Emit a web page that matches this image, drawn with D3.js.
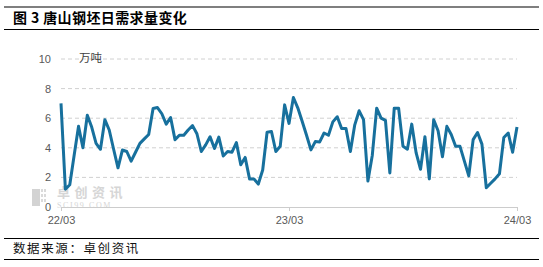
<!DOCTYPE html>
<html>
<head>
<meta charset="utf-8">
<script src="https://cdn.jsdelivr.net/npm/d3@7"></script>
<style>
  body { margin: 0; background: #fff; }
  svg { display: block; font-family: "Liberation Sans", Arial, sans-serif; }
</style>
</head>
<body>
<svg id="chart"></svg>
<script>
const width = 543;
const height = 267;

// weekly demand, 10k tonnes (Mar 2022 - Mar 2024)
const values = [
    7.0, 1.2, 1.5, 3.5, 5.45, 4.0, 6.2, 5.4, 4.3, 3.9,
    5.9, 5.2, 3.9, 2.65, 3.85, 3.75, 3.1, 3.7, 4.3, 4.6,
    4.9, 6.65, 6.72, 6.3, 5.6, 6.05, 4.55, 4.85, 4.85, 5.2,
    5.5, 4.95, 3.75, 4.2, 4.75, 3.95, 4.72, 3.45, 3.75, 3.7,
    4.35, 2.85, 3.35, 1.9, 1.9, 1.55, 2.5, 5.05, 5.1, 3.75,
    4.1, 6.9, 5.65, 7.4, 6.7, 5.8, 4.85, 3.86, 4.42, 4.4,
    5.0, 4.85, 5.75, 6.1, 5.3, 5.3, 3.75, 5.55, 6.5, 5.9,
    1.75, 3.5, 6.68, 6.0, 5.85, 2.3, 6.68, 6.68, 4.1, 3.9,
    5.6, 3.65, 2.55, 4.75, 1.9, 5.9, 5.15, 3.4, 5.45, 4.9,
    4.1, 4.1, 3.1, 2.1, 4.55, 5.03, 4.25, 1.3, 1.6, 1.9,
    2.25, 4.7, 5.0, 3.7, 5.4
];
const xTickIndex = [0, 52, 104];
const xTickLabels = ["22/03", "23/03", "24/03"];
const yTicks = [0, 2, 4, 6, 8, 10];

const title = "图 3  唐山钢坯日需求量变化";
const unit = "万吨";
const source = "数据来源：卓创资讯";

const svg = d3.select("#chart")
    .attr("width", width)
    .attr("height", height);

const x = d3.scaleLinear().domain([0, values.length - 1]).range([61, 517]);
const y = d3.scaleLinear().domain([0, 10]).range([207, 59]);

// header / footer rules
[7, 29.5, 238.5, 259.5].forEach(yy => {
    svg.append("line")
        .attr("x1", 4).attr("x2", 539)
        .attr("y1", yy).attr("y2", yy)
        .attr("stroke", "#000").attr("stroke-width", 1.2);
});

svg.append("text")
    .attr("x", 13).attr("y", 23)
    .attr("font-family", "'Noto Sans CJK SC', sans-serif")
    .attr("font-weight", "bold")
    .attr("font-size", 14)
    .attr("letter-spacing", 0.4)
    .text(title);

svg.append("text")
    .attr("x", 13).attr("y", 253)
    .attr("font-family", "'Noto Sans CJK SC', sans-serif")
    .attr("font-size", 12.5)
    .attr("letter-spacing", 1.6)
    .attr("fill", "#111")
    .text(source);

// watermark
const wm = svg.append("g").attr("opacity", 0.9);
wm.append("rect").attr("x", 32).attr("y", 189).attr("width", 8).attr("height", 17).attr("fill", "#cfcfcf");
[[41, 189], [44, 189], [41, 194], [44, 194], [41, 199], [44, 199]].forEach(p => {
    wm.append("rect").attr("x", p[0]).attr("y", p[1]).attr("width", 2).attr("height", 3).attr("fill", "#d6d6d6");
});
wm.append("text")
    .attr("x", 57).attr("y", 197)
    .attr("font-family", "'Noto Sans CJK SC', sans-serif")
    .attr("font-weight", "bold")
    .attr("font-size", 13)
    .attr("letter-spacing", 4.5)
    .attr("fill", "#d2d2d2")
    .text("卓创资讯");
wm.append("text")
    .attr("x", 57).attr("y", 207.5)
    .attr("font-family", "'Liberation Serif', serif")
    .attr("font-size", 8)
    .attr("letter-spacing", 1.6)
    .attr("fill", "#d2d2d2")
    .text("SCI99.COM");

// grid
svg.append("g")
    .selectAll("line")
    .data(yTicks.filter(d => d > 0))
    .join("line")
    .attr("x1", x(0)).attr("x2", x(values.length - 1))
    .attr("y1", d => y(d)).attr("y2", d => y(d))
    .attr("stroke", "#d0d0d0")
    .attr("stroke-dasharray", "4,3");

// y axis labels
const yAxis = svg.append("g")
    .attr("transform", `translate(${x(0) - 10},0)`)
    .call(d3.axisLeft(y).tickValues(yTicks).tickSize(0).tickPadding(0));
yAxis.select(".domain").remove();
yAxis.selectAll("text")
    .attr("font-size", 11)
    .attr("font-family", "'Liberation Sans', Arial, sans-serif")
    .attr("fill", "#595959");

// x axis
const xAxis = svg.append("g")
    .attr("transform", `translate(0,${y(0)})`)
    .call(d3.axisBottom(x)
        .tickValues(xTickIndex)
        .tickFormat((d, i) => xTickLabels[i])
        .tickSizeInner(4).tickSizeOuter(0).tickPadding(5));
xAxis.select(".domain").attr("stroke", "#cccccc").attr("stroke-width", 1.2);
xAxis.selectAll(".tick line").attr("stroke", "#cccccc");
xAxis.selectAll("text")
    .attr("font-size", 11)
    .attr("font-family", "'Liberation Sans', Arial, sans-serif")
    .attr("fill", "#595959");

svg.append("text")
    .attr("x", 79).attr("y", 62)
    .attr("font-family", "'Noto Sans CJK SC', sans-serif")
    .attr("font-size", 11.5)
    .attr("fill", "#404040")
    .text(unit);

// line
const line = d3.line()
    .x((d, i) => x(i))
    .y(d => y(d));

svg.append("path")
    .datum(values)
    .attr("fill", "none")
    .attr("stroke", "#17709d")
    .attr("stroke-width", 3)
    .attr("stroke-linejoin", "round")
    .attr("d", line);
</script>
</body>
</html>
